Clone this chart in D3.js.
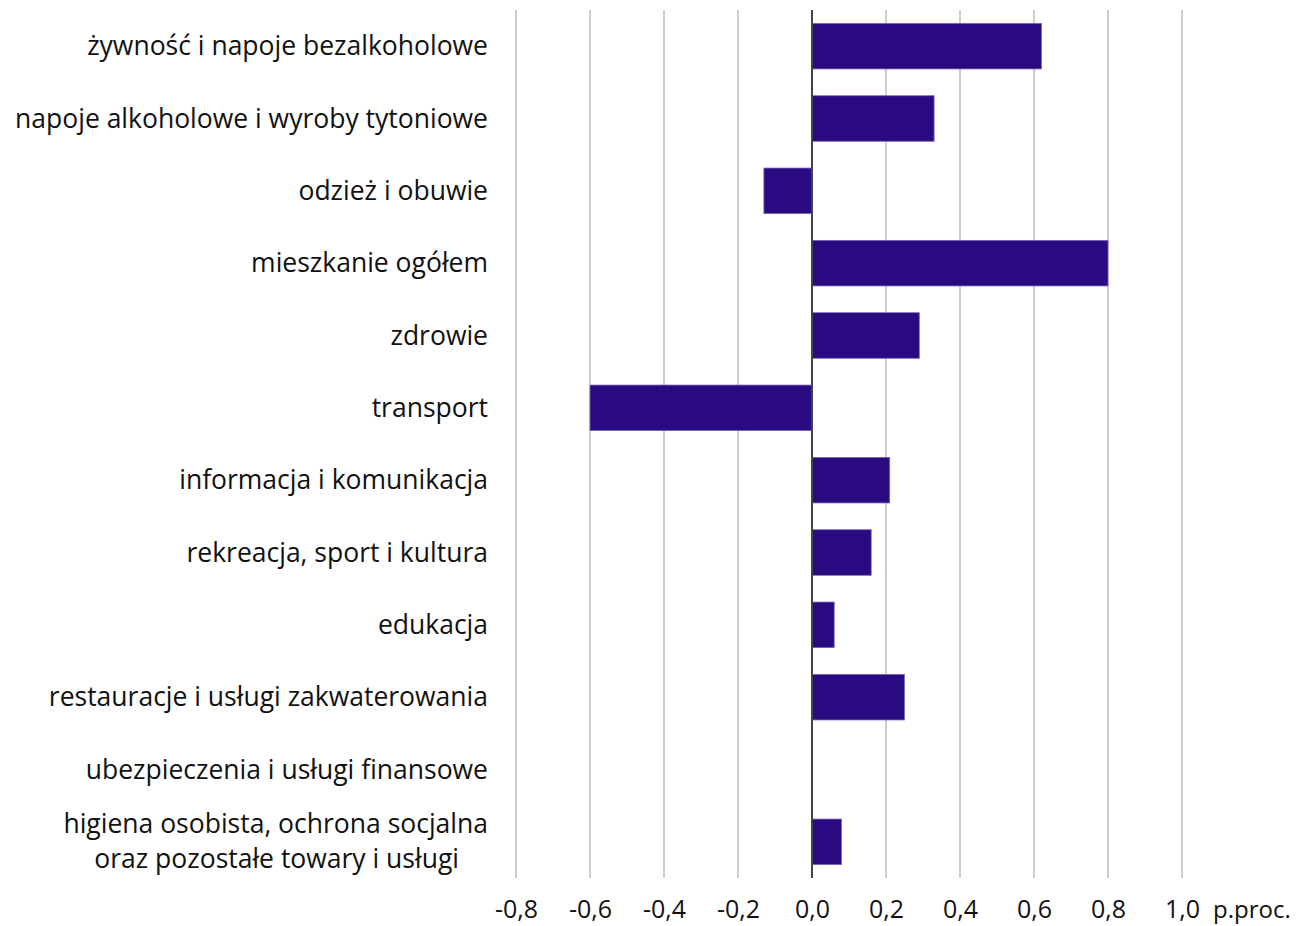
<!DOCTYPE html>
<html><head><meta charset="utf-8">
<script src="https://cdn.jsdelivr.net/npm/d3@7"></script>
<style>body{margin:0;background:#fff}svg{display:block}text{font-family:"Open Sans",sans-serif;fill:#111}</style>
</head><body><svg id="c" width="1305" height="926"></svg>
<script>
const categories = [
  "żywność i napoje bezalkoholowe",
  "napoje alkoholowe i wyroby tytoniowe",
  "odzież i obuwie",
  "mieszkanie ogółem",
  "zdrowie",
  "transport",
  "informacja i komunikacja",
  "rekreacja, sport i kultura",
  "edukacja",
  "restauracje i usługi zakwaterowania",
  "ubezpieczenia i usługi finansowe",
  "higiena osobista, ochrona socjalna\noraz pozostałe towary i usługi"
];
const values = [0.62, 0.33, -0.13, 0.80, 0.29, -0.60, 0.21, 0.16, 0.06, 0.25, 0.0, 0.08];
const tickValues = [-0.8, -0.6, -0.4, -0.2, 0.0, 0.2, 0.4, 0.6, 0.8, 1.0];
const unitLabel = "p.proc.";

const svg = d3.select("#c");
const x = d3.scaleLinear().domain([-0.8, 1.0]).range([516, 1182]);
const y = d3.scaleBand().domain(categories).range([10, 878]).paddingInner(0.37).paddingOuter(0.185);
const fs = 26.5;
const tfs = 25;

// gridlines
svg.append("g").selectAll("line").data(tickValues.filter(d => d !== 0)).join("line")
  .attr("x1", d => x(d)).attr("x2", d => x(d)).attr("y1", 10).attr("y2", 878)
  .attr("stroke", "#bdbdbd").attr("stroke-width", 1.5);

// bars
svg.append("g").selectAll("rect").data(values).join("rect")
  .attr("x", d => x(Math.min(0, d)))
  .attr("width", d => Math.abs(x(d) - x(0)))
  .attr("y", (d, i) => y(categories[i]))
  .attr("height", y.bandwidth())
  .attr("fill", "#2a0a80")
  .attr("stroke", "#7a66b8").attr("stroke-width", d => d === 0 ? 0 : 0.8);

// zero line
svg.append("line").attr("x1", x(0)).attr("x2", x(0)).attr("y1", 10).attr("y2", 878)
  .attr("stroke", "#444").attr("stroke-width", 2);

// category labels
const lab = svg.append("g").selectAll("text").data(categories).join("text")
  .attr("text-anchor", "end")
  .attr("font-size", fs)
  .attr("transform", d => `translate(488,${y(d) + y.bandwidth() / 2})`);
lab.each(function(d) {
  const lines = d.split("\n");
  const t = d3.select(this);
  lines.forEach((ln, k) => {
    t.append("tspan").attr("x", k === 1 ? -29 : 0)
      .attr("y", (k - (lines.length - 1) / 2) * 35 + 9)
      .text(ln);
  });
});

// x axis labels
const xa = d3.axisBottom(x).tickValues(tickValues).tickSize(0)
  .tickFormat(d => d3.format(".1f")(d).replace(".", ",").replace("−", "-"));
const gx = svg.append("g").attr("transform", "translate(0,897)").call(xa);
gx.select(".domain").remove();
gx.selectAll("text").attr("font-size", tfs).attr("font-family", "Open Sans").attr("fill", "#111");
svg.append("text").attr("x", 1213).attr("y", 917.5).attr("font-size", 24).text(unitLabel);
</script></body></html>
